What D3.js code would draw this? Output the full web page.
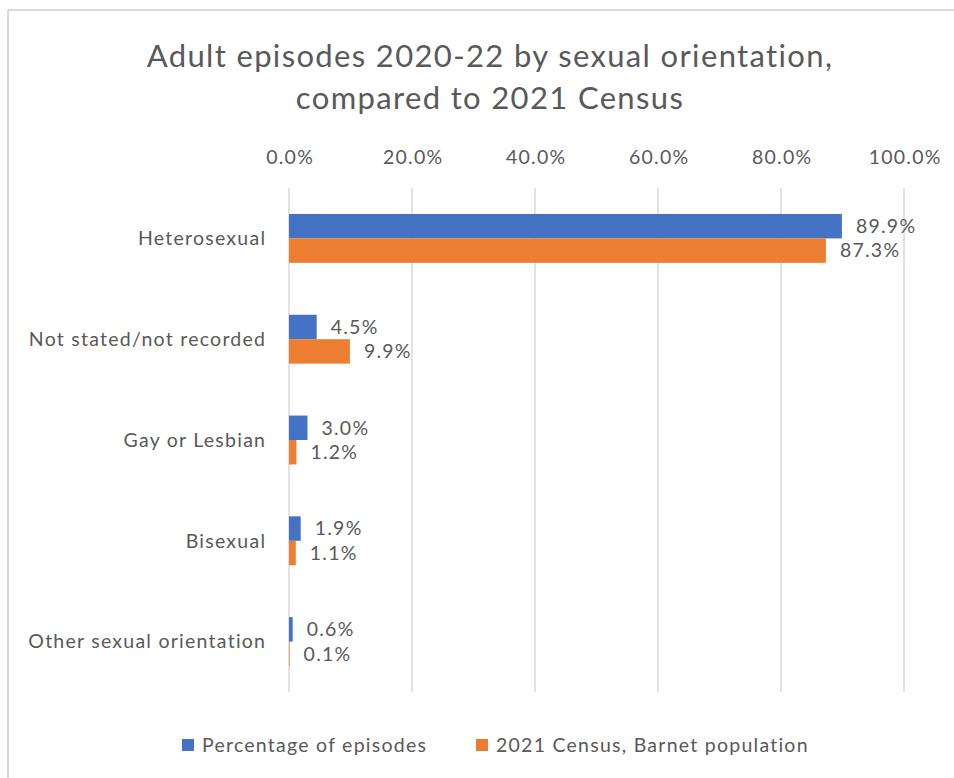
<!DOCTYPE html>
<html>
<head>
<meta charset="utf-8">
<script src="https://cdn.jsdelivr.net/npm/d3@7"></script>
<style>
  html, body { margin: 0; padding: 0; background: #fff; }
  svg { display: block; }
  text { font-family: Lato, "Open Sans", sans-serif; fill: #595959; }
</style>
</head>
<body>
<svg id="chart" width="954" height="778"></svg>
<script>
const titleLines = ["Adult episodes 2020-22 by sexual orientation,", "compared to 2021 Census"];
const categories = ["Heterosexual", "Not stated/not recorded", "Gay or Lesbian", "Bisexual", "Other sexual orientation"];
const seriesNames = ["Percentage of episodes", "2021 Census, Barnet population"];
const episodes = [0.899, 0.045, 0.030, 0.019, 0.006];
const census = [0.873, 0.099, 0.012, 0.011, 0.001];
const tickValues = [0, 0.2, 0.4, 0.6, 0.8, 1.0];
const colors = ["#4472C4", "#ED7D31"];

const svg = d3.select("#chart");
const W = 954, H = 778;
const LS = 1.25; // letter spacing for body text

// chart frame (partially visible)
svg.append("line").attr("x1", 8).attr("x2", W).attr("y1", 10).attr("y2", 10)
  .attr("stroke", "#d9d9d9").attr("stroke-width", 2);
svg.append("line").attr("x1", 8).attr("x2", 8).attr("y1", 10).attr("y2", H)
  .attr("stroke", "#d9d9d9").attr("stroke-width", 2);

// title
svg.selectAll("text.title").data(titleLines).join("text").attr("class", "title")
  .attr("x", 490).attr("y", (d, i) => 67 + i * 42).attr("text-anchor", "middle")
  .style("font-size", "31px").style("letter-spacing", "1.35px").text(d => d);

const x = d3.scaleLinear().domain([0, 1]).range([289, 904]);
const y = d3.scaleBand().domain(categories).range([188, 692]).paddingInner(0.515).paddingOuter(0.2575);
const ys = d3.scaleBand().domain([0, 1]).range([0, y.bandwidth()]);

// gridlines
svg.append("g").selectAll("line").data(tickValues).join("line")
  .attr("x1", d => x(d)).attr("x2", d => x(d))
  .attr("y1", 188).attr("y2", 692)
  .attr("stroke", "#d9d9d9").attr("stroke-width", 1.5);

// top axis labels
const axis = d3.axisTop(x).tickValues(tickValues).tickFormat(d3.format(".1%")).tickSize(0).tickPadding(0);
const ag = svg.append("g").attr("transform", "translate(0,164)").call(axis);
ag.select(".domain").remove();
ag.selectAll("text").style("font-family", "Lato, 'Open Sans', sans-serif").style("font-size", "19.5px")
  .style("letter-spacing", LS + "px").attr("dx", LS / 2).attr("fill", "#595959");

// category labels
svg.append("g").selectAll("text").data(categories).join("text")
  .attr("x", 265 + LS).attr("y", d => y(d) + y.bandwidth() / 2)
  .attr("dy", "0.35em").attr("text-anchor", "end")
  .style("font-size", "19.5px").style("letter-spacing", LS + "px").text(d => d);

const rows = categories.map((c, i) => ({ cat: c, vals: [episodes[i], census[i]] }));
const groups = svg.append("g").selectAll("g").data(rows).join("g")
  .attr("transform", d => `translate(0,${y(d.cat)})`);

groups.selectAll("rect").data(d => d.vals.map((v, s) => ({ v, s }))).join("rect")
  .attr("x", x(0)).attr("y", d => ys(d.s))
  .attr("width", d => x(d.v) - x(0)).attr("height", ys.bandwidth())
  .attr("fill", d => colors[d.s]);

groups.selectAll("text").data(d => d.vals.map((v, s) => ({ v, s }))).join("text")
  .attr("x", d => x(d.v) + 14).attr("y", d => ys(d.s) + ys.bandwidth() / 2)
  .attr("dy", "0.35em").style("font-size", "19.5px").style("letter-spacing", LS + "px")
  .text(d => d3.format(".1%")(d.v));

// legend
const legendX = [182, 476];
const lg = svg.append("g").selectAll("g").data(seriesNames).join("g")
  .attr("transform", (d, i) => `translate(${legendX[i]},739)`);
lg.append("rect").attr("width", 12).attr("height", 12).attr("fill", (d, i) => colors[i]);
lg.append("text").attr("x", 20).attr("y", 6).attr("dy", "0.35em")
  .style("font-size", "19.5px").style("letter-spacing", LS + "px").text(d => d);
</script>
</body>
</html>
